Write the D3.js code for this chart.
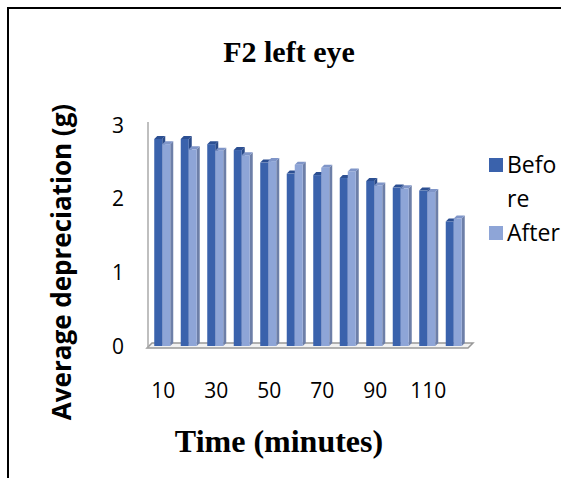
<!DOCTYPE html>
<html><head><meta charset="utf-8">
<script src="https://cdn.jsdelivr.net/npm/d3@7"></script>
<style>body{margin:0;background:#fff;}svg{display:block;}</style>
</head><body>
<svg id="c" width="561" height="478"></svg>
<script>
const categories = ["10","20","30","40","50","60","70","80","90","100","110","120"];
const before = [2.81, 2.81, 2.74, 2.66, 2.49, 2.34, 2.32, 2.28, 2.24, 2.15, 2.11, 1.69];
const after  = [2.74, 2.67, 2.65, 2.59, 2.51, 2.46, 2.42, 2.37, 2.18, 2.14, 2.09, 1.73];
const yTicks = [0, 1, 2, 3];
const xLabels = ["10","30","50","70","90","110"];

const svg = d3.select("#c");
// frame
svg.append("path").attr("d","M8,478 L8,8 L561,8").attr("fill","none").attr("stroke","#000").attr("stroke-width",2);

const x = d3.scaleBand().domain(categories).range([150, 468]);
const y = d3.scaleLinear().domain([0,3]).range([346, 125]);
const base = y(0);
const dx = 3, dy = -3;

// floor
svg.append("path")
  .attr("d",`M147,${base+2} L${x.range()[1]},${base+2} L${x.range()[1]+5},${base-3} L152,${base-3} Z`)
  .attr("fill","#f2f2f2").attr("stroke","#999").attr("stroke-width",1.5);
// y axis line
svg.append("line").attr("x1",148).attr("x2",148).attr("y1",y(3)-3).attr("y2",base+2)
  .attr("stroke","#aaa").attr("stroke-width",1.5);

const series = [
  {vals: before, front:"#3A62AC", side:"#2A4A88", top:"#2C4F92", off:-8},
  {vals: after,  front:"#8EA5D7", side:"#6D7FA8", top:"#7F95C8", off:0}
];
const w = 8;
series.forEach(s => {
  const g = svg.append("g");
  categories.forEach((c,i) => {
    const x0 = x(c) + x.bandwidth()/2 - 1 + s.off;
    const yt = y(s.vals[i]);
    g.append("path").attr("d",`M${x0+w},${yt} L${x0+w+dx},${yt+dy} L${x0+w+dx},${base+dy} L${x0+w},${base} Z`).attr("fill",s.side);
    g.append("path").attr("d",`M${x0},${yt} L${x0+dx},${yt+dy} L${x0+w+dx},${yt+dy} L${x0+w},${yt} Z`).attr("fill",s.top);
    g.append("rect").attr("x",x0).attr("y",yt).attr("width",w).attr("height",base-yt).attr("fill",s.front);
  });
});

const sans = "'Open Sans', sans-serif";
const serif = "'Liberation Serif', 'Times New Roman', serif";
// y tick labels
svg.selectAll(".yt").data(yTicks).enter().append("text")
  .attr("x",124).attr("y",d=>y(d)).attr("dy","0.36em").attr("text-anchor","end")
  .attr("font-family",sans).attr("font-size",21).attr("fill","#000").text(d=>d);
// x tick labels
svg.selectAll(".xt").data(xLabels).enter().append("text")
  .attr("x",d=>x(d)+x.bandwidth()/2).attr("y",398).attr("text-anchor","middle")
  .attr("font-family",sans).attr("font-size",21).attr("fill","#000").text(d=>d);

// titles
svg.append("text").attr("x",289).attr("y",62).attr("text-anchor","middle")
  .attr("font-family",serif).attr("font-weight","bold").attr("font-size",30).text("F2 left eye");
svg.append("text").attr("x",279).attr("y",452).attr("text-anchor","middle")
  .attr("font-family",serif).attr("font-weight","bold").attr("font-size",32).text("Time (minutes)");
svg.append("text").attr("transform","translate(71,262) rotate(-90)").attr("text-anchor","middle")
  .attr("font-family",sans).attr("font-weight","bold").attr("font-size",26).text("Average depreciation (g)");

// legend
const leg = [{name:["Befo","re"], color:"#3A62AC", y:158},{name:["After"], color:"#8EA5D7", y:226}];
leg.forEach(l => {
  svg.append("rect").attr("x",489).attr("y",l.y).attr("width",14).attr("height",14).attr("fill",l.color);
  const t = svg.append("text").attr("x",507).attr("y",l.y+15).attr("font-family",sans).attr("font-size",23);
  l.name.forEach((n,k)=> t.append("tspan").attr("x",507).attr("dy",k?34:0).text(n));
});
</script>
</body></html>
